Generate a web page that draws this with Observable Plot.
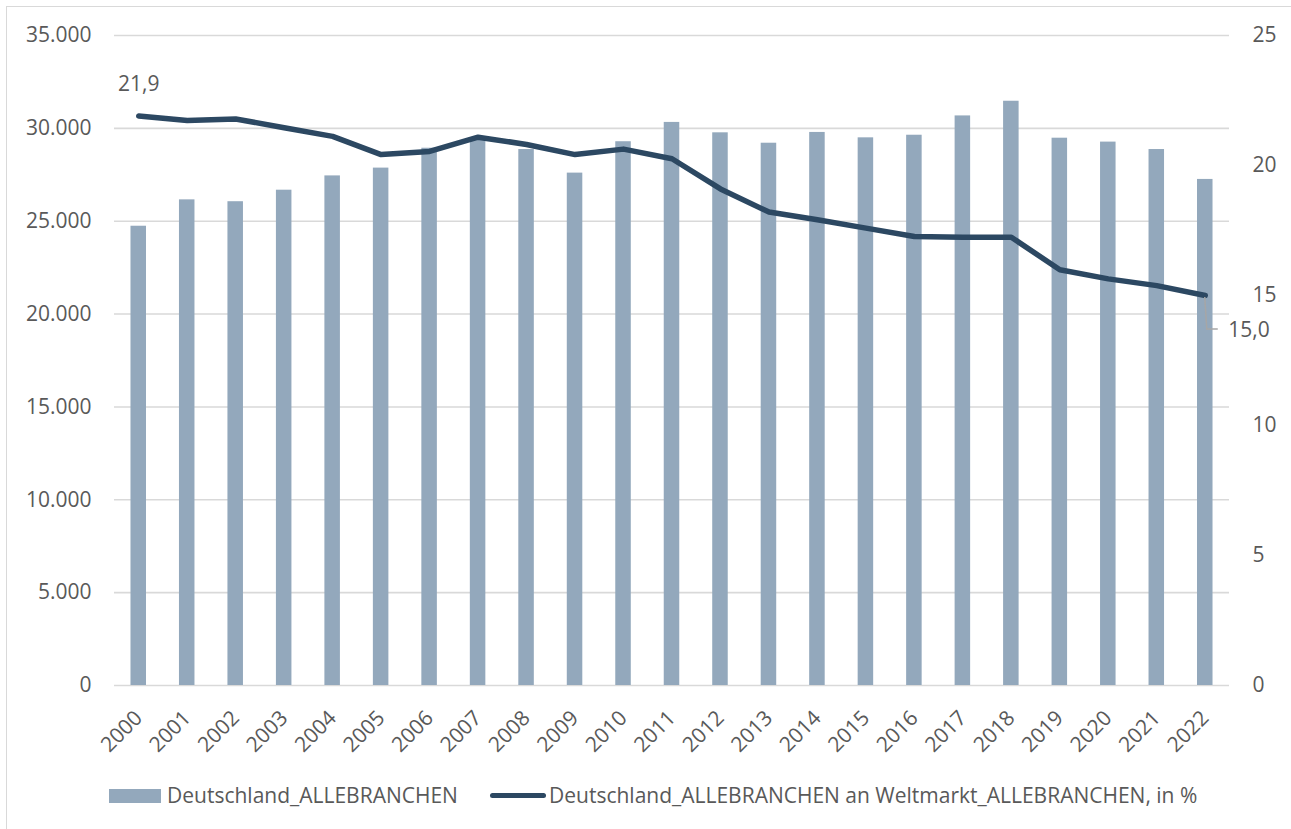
<!DOCTYPE html>
<html>
<head>
<meta charset="utf-8">
<script src="https://cdn.jsdelivr.net/npm/d3@7"></script>
<script src="https://cdn.jsdelivr.net/npm/@observablehq/plot@0.6"></script>
<style>
  html, body { margin: 0; padding: 0; background: #fff; }
  #wrap { position: relative; width: 1291px; height: 829px; overflow: hidden; background: #fff;
          font-family: "Open Sans", sans-serif; color: #595959; }
  #frame { position: absolute; left: 6px; top: 6px; width: 1400px; height: 900px;
           border-left: 1.5px solid #d9d9d9; border-top: 1.5px solid #d9d9d9; }
  #chart { position: absolute; left: 0; top: 0; }
  .leg { position: absolute; font-size: 21px; line-height: 21px; white-space: nowrap; }
  .sw { position: absolute; }
</style>
</head>
<body>
<div id="wrap">
  <div id="frame"></div>
  <div id="chart"></div>
  <div class="sw" id="sw1" style="left:109px; top:789px; width:52px; height:14px;"></div>
  <div class="leg" id="lg1" style="left:167px; top:785px;"></div>
  <div class="sw" id="sw2" style="left:490px; top:793px; width:56px; height:5px; border-radius:3px;"></div>
  <div class="leg" id="lg2" style="left:549px; top:785px;"></div>
</div>
<script>
// ---- data ----
const years = ["2000","2001","2002","2003","2004","2005","2006","2007","2008","2009","2010","2011",
               "2012","2013","2014","2015","2016","2017","2018","2019","2020","2021","2022"];
const exportsDE = [24730, 26150, 26050, 26670, 27440, 27860, 28930, 29380, 28860, 27590, 29280, 30320,
                   29760, 29200, 29780, 29490, 29630, 30670, 31460, 29470, 29260, 28860, 27250];
const sharePct = [21.9, 21.73, 21.79, 21.45, 21.12, 20.42, 20.54, 21.09, 20.81, 20.42, 20.63, 20.26,
                  19.10, 18.21, 17.91, 17.59, 17.27, 17.24, 17.24, 15.99, 15.64, 15.38, 15.0];
const leftTicks = [0, 5000, 10000, 15000, 20000, 25000, 30000, 35000];
const rightTicks = [0, 5, 10, 15, 20, 25];
const seriesBar = "Deutschland_ALLEBRANCHEN";
const seriesLine = "Deutschland_ALLEBRANCHEN an Weltmarkt_ALLEBRANCHEN, in %";

const barColor = "#93a8bc";
const lineColor = "#2c4862";
const gridColor = "#d9d9d9";
const textColor = "#595959";

const rows = years.map((y, i) => ({year: y, value: exportsDE[i], share: sharePct[i]}));
const k = 35000 / 25; // right axis -> left axis
const de = d3.formatLocale({decimal: ",", thousands: ".", grouping: [3], currency: ["", "€"]});
const fmtLeft = de.format(",.0f");
const fmtPct = de.format(".1f");

const first = [rows[0]];
const last = [rows[rows.length - 1]];

const chart = Plot.plot({
  width: 1291,
  height: 770,
  marginLeft: 114,
  marginRight: 62,
  marginTop: 35,
  marginBottom: 85,
  style: {fontFamily: "Open Sans, sans-serif", fontSize: "21px", color: textColor, background: "transparent", overflow: "visible"},
  x: {domain: years, paddingInner: 0.68, paddingOuter: 0.34, round: false, label: null, axis: null},
  y: {domain: [0, 35000], label: null},
  marks: [
    Plot.ruleY(leftTicks, {stroke: gridColor, strokeWidth: 1.6}),
    Plot.barY(rows, {x: "year", y: "value", fill: barColor}),
    Plot.line(rows, {x: "year", y: d => d.share * k, stroke: lineColor, strokeWidth: 5.5,
                     strokeLinejoin: "round", strokeLinecap: "round"}),
    Plot.axisY({ticks: leftTicks, tickFormat: fmtLeft, tickSize: 0, tickPadding: 23, label: null, fill: textColor}),
    Plot.axisY({anchor: "right", ticks: rightTicks.map(v => v * k), tickFormat: d => String(Math.round(d / k)),
                tickSize: 0, tickPadding: 23, label: null, fill: textColor}),
    // x tick labels, rotated
    Plot.text(years, {x: d => d, frameAnchor: "bottom", dy: 29, rotate: -45, textAnchor: "end",
                      lineAnchor: "middle", fill: textColor}),
    Plot.text(first, {x: "year", y: d => d.share * k, text: d => fmtPct(d.share), dy: -32, fill: textColor}),
    Plot.text(last, {x: "year", y: d => d.share * k, text: d => fmtPct(d.share), dx: 23, dy: 35,
                     textAnchor: "start", fill: textColor}),
    // leader line for the last label
    (index, scales) => {
      const d = last[0];
      const px = scales.x(d.year) + scales.x.bandwidth() / 2;
      const py = scales.y(d.share * k);
      const p = d3.create("svg:path")
        .attr("d", `M${px},${py + 2}L${px + 2},${py + 34}L${px + 13},${py + 34}`)
        .attr("fill", "none").attr("stroke", "#a6a6a6").attr("stroke-width", 1.5);
      return p.node();
    }
  ]
});
document.getElementById("chart").appendChild(chart);

document.getElementById("sw1").style.background = barColor;
document.getElementById("sw2").style.background = lineColor;
document.getElementById("lg1").textContent = seriesBar;
document.getElementById("lg2").textContent = seriesLine;
</script>
</body>
</html>
